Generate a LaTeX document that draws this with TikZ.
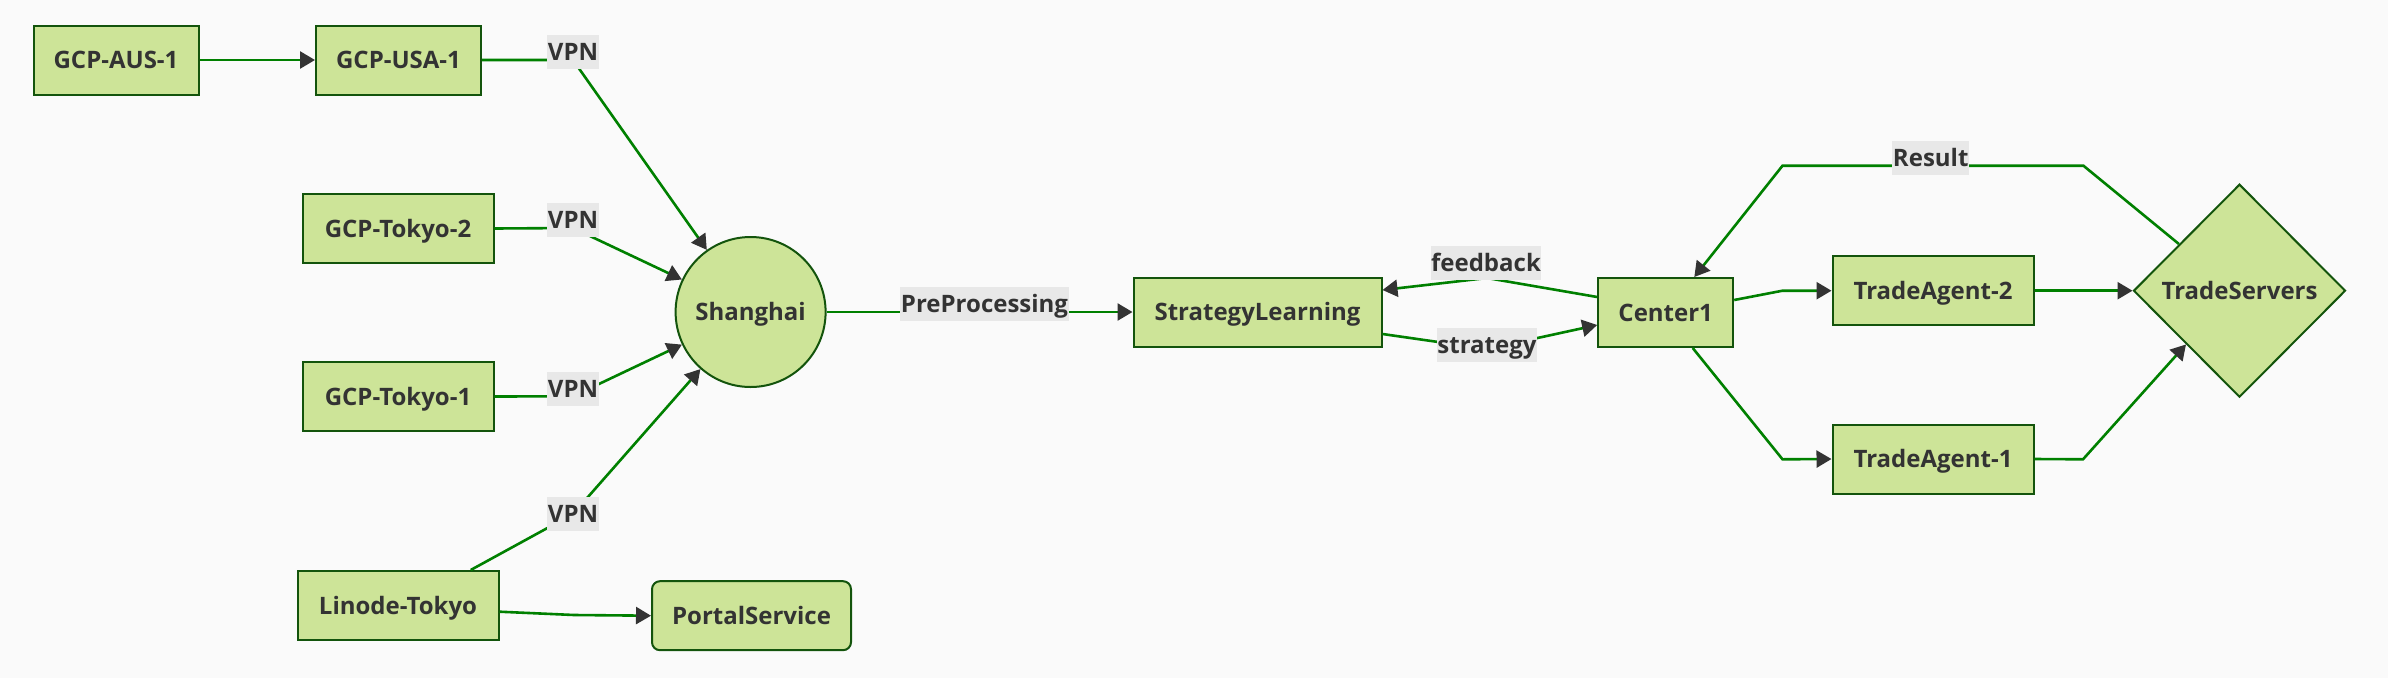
\documentclass[tikz,border=0pt]{standalone}
\usepackage{fontspec}
\setmainfont{Open Sans}
\usetikzlibrary{arrows.meta,shapes.geometric,calc}
\definecolor{bgc}{HTML}{FAFAFA}
\definecolor{nodef}{HTML}{CDE498}
\definecolor{nodeb}{HTML}{13540C}
\definecolor{edgec}{HTML}{008000}
\definecolor{lblbg}{HTML}{E8E8E8}
\definecolor{txt}{HTML}{333333}
\begin{document}
\begin{tikzpicture}[x=1pt,y=-1pt,
  font=\fontsize{24}{28}\selectfont\bfseries,
  box/.style={draw=nodeb, fill=nodef, line width=2pt, inner sep=0pt,
    minimum height=69pt, text=txt, text height=17pt, text depth=0pt},
  roundbox/.style={box, rounded corners=8pt},
  lbl/.style={fill=lblbg, text=txt, inner xsep=0.5pt, inner ysep=0pt,
    minimum height=34pt, text height=17pt, text depth=0pt},
  edge/.style={draw=edgec, line width=2.6pt,
    -{Triangle[length=15pt,width=17pt,color=txt]}},
  plain/.style={draw=edgec, line width=2.6pt}
]
\fill[bgc] (0,0) rectangle (2388,678);

% nodes
\node[box, minimum width=165pt] (aus) at (116,60) {GCP-AUS-1};
\node[box, minimum width=165pt] (usa) at (398.5,60) {GCP-USA-1};
\node[box, minimum width=191pt] (tk2) at (398,228.5) {GCP-Tokyo-2};
\node[box, minimum width=191pt] (tk1) at (398,396.5) {GCP-Tokyo-1};
\node[box, minimum width=201pt] (lin) at (398,605.5) {Linode-Tokyo};
\node[roundbox, minimum width=199pt] (portal) at (751.5,615.7) {PortalService};
\node[box, circle, minimum size=150pt] (sh) at (750.6,312) {Shanghai};
\node[box, minimum width=248pt] (sl) at (1257.5,312) {StrategyLearning};
\node[box, minimum width=135pt] (c1) at (1665.7,312.5) {Center1};
\node[box, minimum width=201pt] (ta2) at (1933,290.7) {TradeAgent-2};
\node[box, minimum width=201pt] (ta1) at (1933,459) {TradeAgent-1};
\node[box, diamond, shape aspect=1, minimum width=212pt, minimum height=213pt] (ts) at (2239.5,290.7) {TradeServers};

% bend points
\coordinate (v1) at (573,60);
\coordinate (v2) at (573,228);
\coordinate (v3) at (573,396.3);
\coordinate (v4) at (573,514);
\coordinate (lp) at (574,615);
\coordinate (fb) at (1487,278);
\coordinate (st) at (1487,349);
\coordinate (r1) at (2083.4,165.7);
\coordinate (r2) at (1782.5,165.7);
\coordinate (a2) at (1782.5,290.7);
\coordinate (a1) at (1782.5,459.3);
\coordinate (b1) at (2083,459.3);

% edges
\draw[edge] (aus) -- (usa);
\draw[edge] (usa.east) -- (v1) -- (sh);
\draw[edge] (tk2.east) -- (v2) -- (sh);
\draw[edge] (tk1.east) -- (v3) -- (sh);
\draw[edge] ($(lin.north)+(72.7,0)$) -- (v4) -- (sh);
\draw[edge] ($(lin.east)+(0,6.2)$) -- (lp) -- (portal.west);
\draw[edge] (sh.east) -- (sl.west);
\draw[edge] ($(c1.west)+(0,-15.5)$) -- (fb) -- ($(sl.east)+(0,-22)$);
\draw[edge] ($(sl.east)+(0,22)$) -- (st) -- ($(c1.west)+(0,12.5)$);
\draw[edge] ($(ts.west)!0.434!(ts.north)$) -- (r1) -- (r2) -- ($(c1.north)+(28.6,0)$);
\draw[edge] ($(c1.east)+(0,-12.5)$) -- (a2) -- (ta2.west);
\draw[edge] ($(c1.south)+(27,0)$) -- (a1) -- (ta1.west);
\draw[edge] (ta2.east) -- (ts.west);
\draw[edge] (ta1.east) -- (b1) -- (ts.south west);

% edge labels
\node[lbl] (l1) at (573,52) {VPN};
\node[lbl] (l2) at (573,220) {VPN};
\node[lbl] (l3) at (573,388.7) {VPN};
\node[lbl] (l4) at (573,514) {VPN};
\node[lbl] (lpre) at (984.5,304) {PreProcessing};
\node[lbl] (lfb) at (1486,263) {feedback};
\node[lbl] (lst) at (1487,345) {strategy};
\node[lbl] (lres) at (1930.7,157.5) {Result};
\end{tikzpicture}
\end{document}
